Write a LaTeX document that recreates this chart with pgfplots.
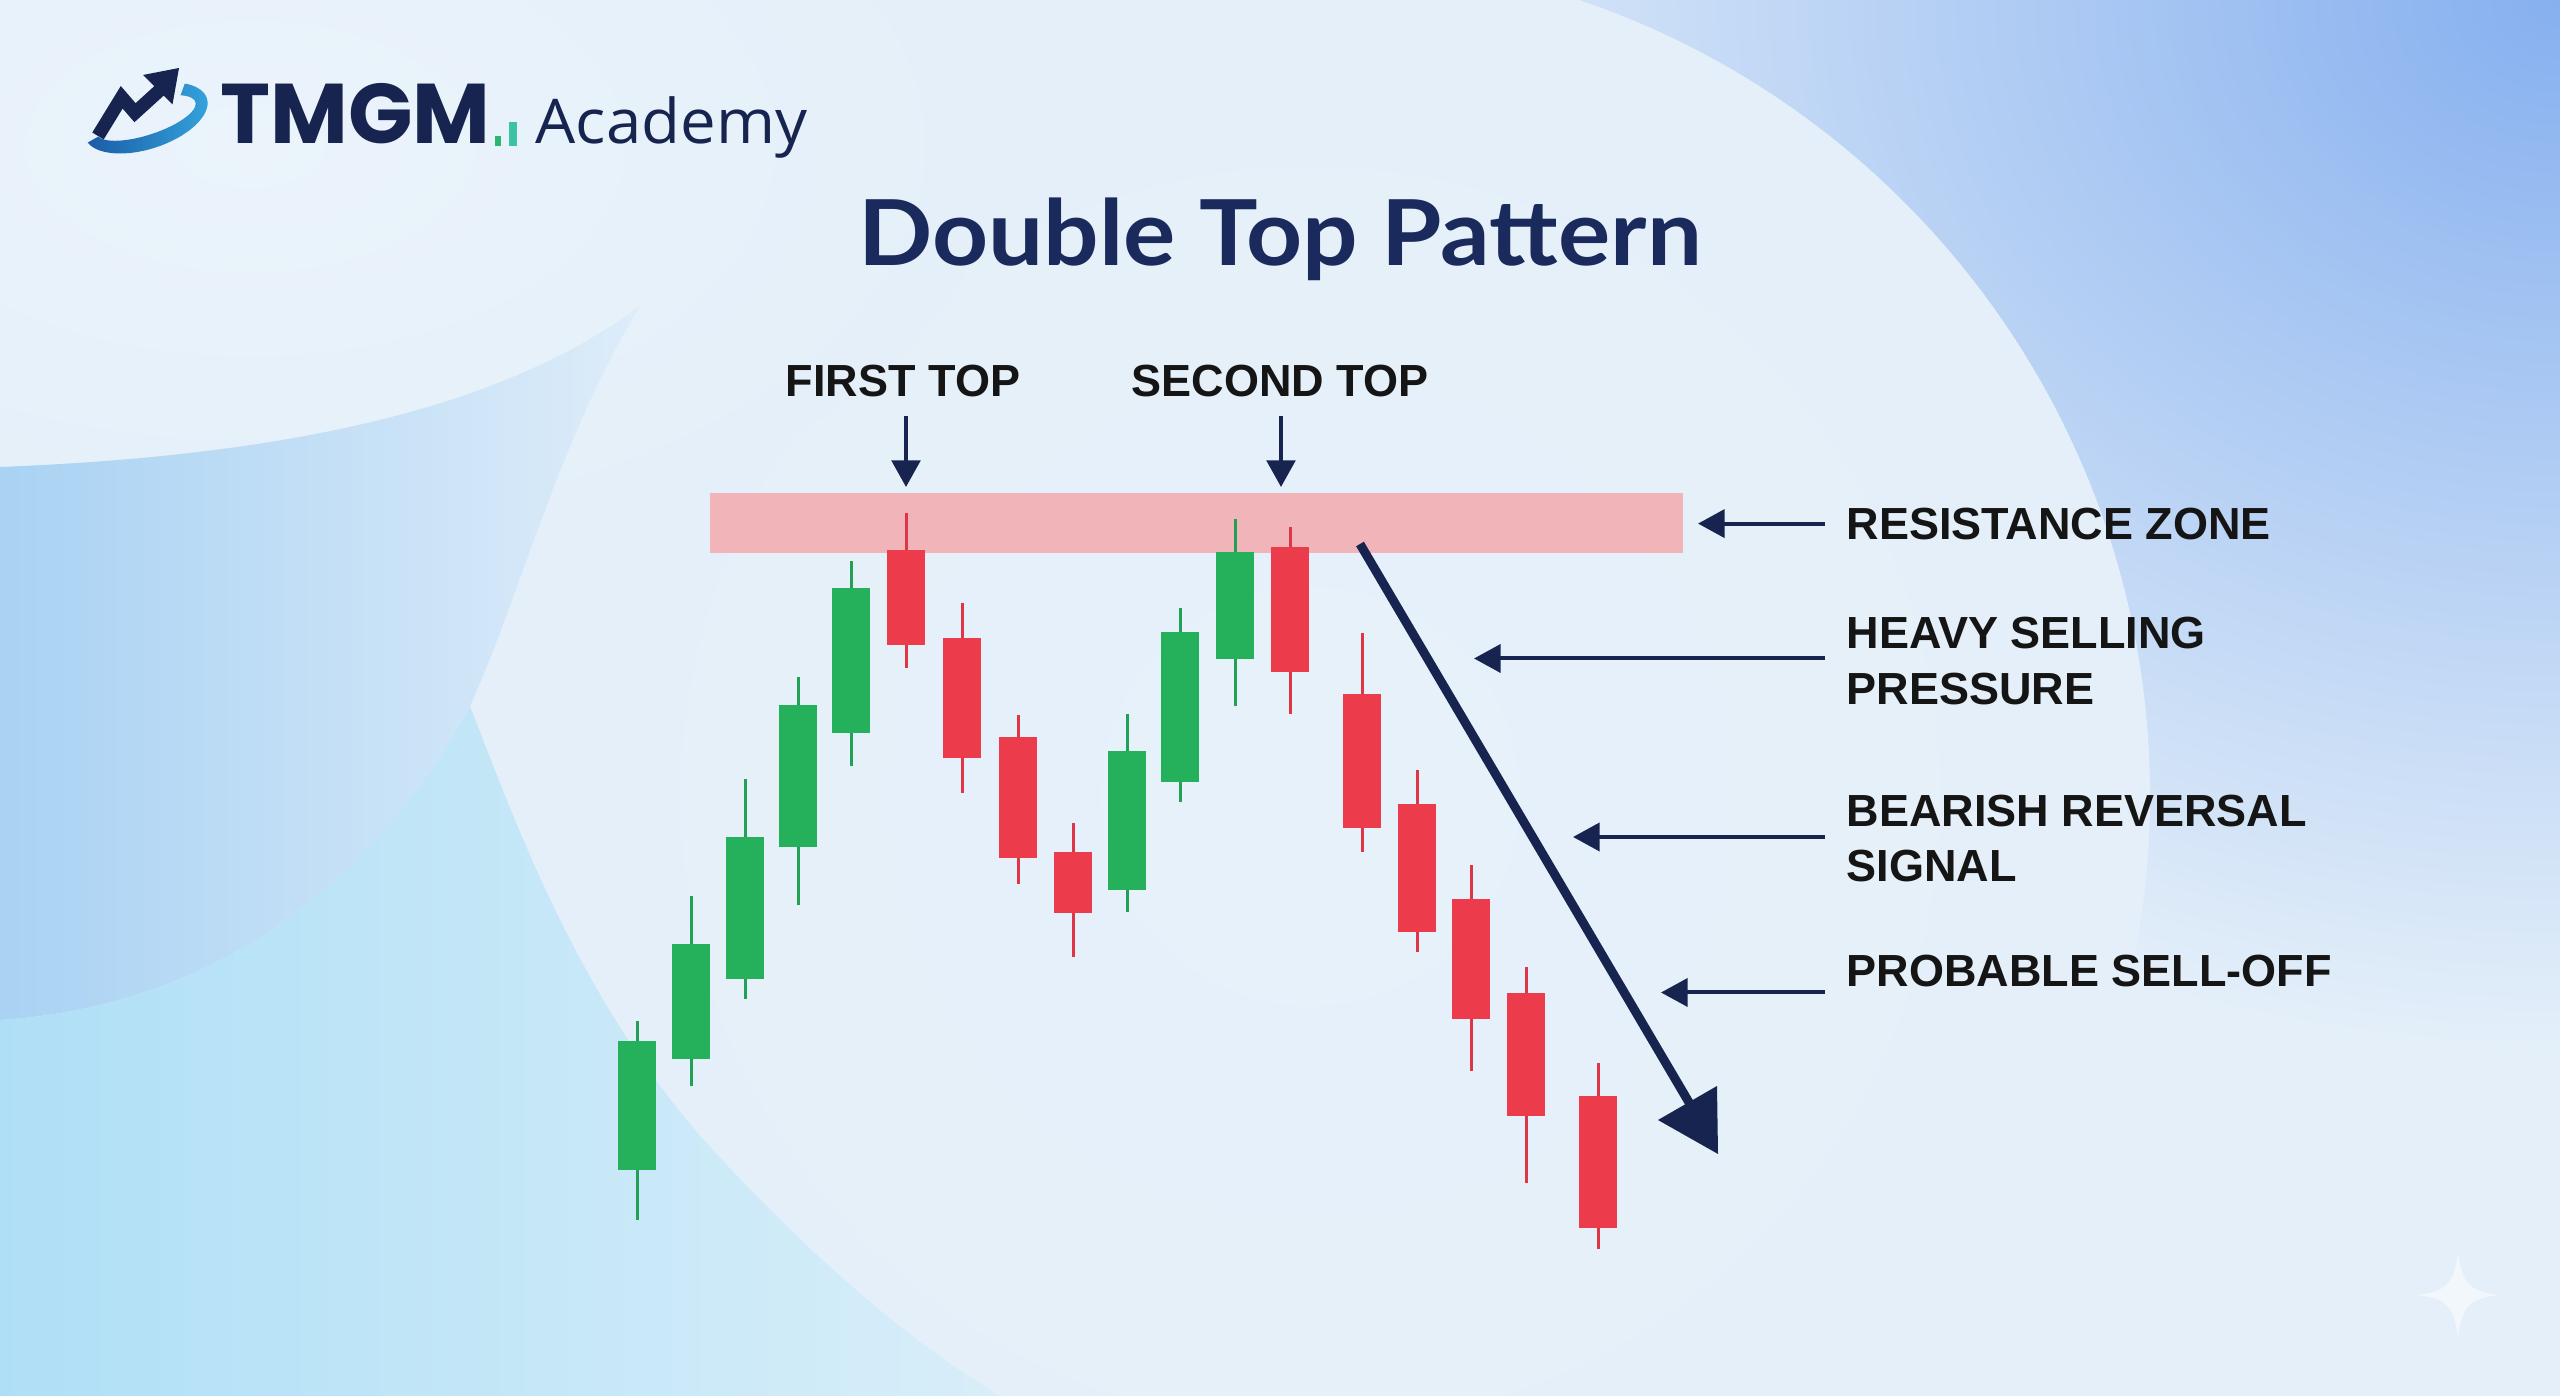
\documentclass[border=0pt]{standalone}
\usepackage{pgfplots}
\pgfplotsset{compat=1.18}
\usepackage{pgfplotstable}
\usepackage{fontspec}
\setmainfont{Liberation Sans}
\newfontfamily\labelfont{Liberation Sans}
\newfontfamily\titlefont{Lato}
\newfontfamily\acadfont{Open Sans}
\newfontfamily\logofont{Poppins}
\usetikzlibrary{arrows.meta}

\definecolor{bgbase}{HTML}{E4EFF9}
\definecolor{bgtl}{HTML}{EBF4FB}
\definecolor{bgtr}{HTML}{86B0EF}
\definecolor{bgcirc1}{HTML}{E7F1FA}
\definecolor{band1}{HTML}{A9D2F3}
\definecolor{band2}{HTML}{DDECF9}
\definecolor{bl1}{HTML}{AFDFF6}
\definecolor{bl2}{HTML}{D8EEF9}
\definecolor{navy}{HTML}{17244F}
\definecolor{titlenavy}{HTML}{1B2A5C}
\definecolor{cgreen}{HTML}{25B15C}
\definecolor{gwick}{HTML}{22A055}
\definecolor{cred}{HTML}{EC3B4A}
\definecolor{rwick}{HTML}{DE3645}
\definecolor{zonepink}{HTML}{F1B5B9}
\definecolor{labelblack}{HTML}{151515}
\definecolor{swooshA}{HTML}{1A5CA6}
\definecolor{swooshB}{HTML}{36A6DE}
\definecolor{bar1}{HTML}{2BB673}
\definecolor{bar2}{HTML}{3CC3A6}

\pgfplotstableread{
x    bot  top  low  high
637  226  355  176  375
691  337  452  310  500
745  417  559  397  617
798  549  691  491  719
851  663  808  630  835
1127 506  645  484  682
1180 614  764  594  788
1235 737  844  690  877
}\greencandles

\pgfplotstableread{
x    bot  top  low  high
906  751  846  728  883
962  638  758  603  793
1018 538  659  512  681
1073 483  544  439  573
1290 724  849  682  869
1362 568  702  544  763
1417 464  592  444  626
1471 377  497  325  531
1526 280  403  213  429
1598 168  300  147  333
}\redcandles

\begin{document}
\begin{tikzpicture}[x=0.3pt,y=0.3pt]
% ---------- background ----------
\fill[bgbase] (0,0) rectangle (2560,1396);
\begin{scope}
\clip (0,0) rectangle (2560,1396);
\shade[inner color=bgtr, outer color=bgbase] (2560,1396) ellipse (1250 and 1050);
\shade[inner color=bgcirc1, outer color=bgbase] (1310,600) circle (840);
\shade[inner color=bgtl, outer color=bgbase] (250,1250) ellipse (750 and 420);
\shade[left color=band1, right color=band2]
  (0,929) .. controls (280,940) and (500,985) .. (640,1090)
  .. controls (560,960) and (520,800) .. (470,690)
  .. controls (380,520) and (220,390) .. (0,376) -- cycle;
\shade[left color=bl1, right color=bl2]
  (0,376) .. controls (220,390) and (380,520) .. (470,690)
  .. controls (520,560) and (580,400) .. (700,260)
  .. controls (800,150) and (900,60) .. (1000,0) -- (0,0) -- cycle;
% sparkle watermark
\fill[white, opacity=0.55] (2458,143) .. controls (2462,112) and (2470,104) .. (2500,101)
  .. controls (2470,98) and (2462,90) .. (2458,59)
  .. controls (2454,90) and (2446,98) .. (2416,101)
  .. controls (2446,104) and (2454,112) .. (2458,143) -- cycle;
\end{scope}

% ---------- chart ----------
\begin{axis}[at={(0,0)}, anchor=origin, x=0.3pt, y=0.3pt,
  xmin=0, xmax=2560, ymin=0, ymax=1396, hide axis, clip=false]
% resistance zone
\addplot[fill=zonepink, draw=none, forget plot] coordinates {(710,843) (1683,843) (1683,903) (710,903)} -- cycle;
% wicks
\addplot[draw=none, mark=none, forget plot,
  error bars/.cd, y dir=plus, y explicit, error mark=none,
  error bar style={line width=0.9pt, draw=gwick}]
  table[x=x, y=low, y error expr=\thisrow{high}-\thisrow{low}] {\greencandles};
\addplot[draw=none, mark=none, forget plot,
  error bars/.cd, y dir=plus, y explicit, error mark=none,
  error bar style={line width=0.9pt, draw=rwick}]
  table[x=x, y=low, y error expr=\thisrow{high}-\thisrow{low}] {\redcandles};
% bodies
\addplot[draw=none, mark=none, forget plot,
  error bars/.cd, y dir=plus, y explicit, error mark=none,
  error bar style={line width=11.4pt, draw=cgreen}]
  table[x=x, y=bot, y error expr=\thisrow{top}-\thisrow{bot}] {\greencandles};
\addplot[draw=none, mark=none, forget plot,
  error bars/.cd, y dir=plus, y explicit, error mark=none,
  error bar style={line width=11.4pt, draw=cred}]
  table[x=x, y=bot, y error expr=\thisrow{top}-\thisrow{bot}] {\redcandles};
\end{axis}

% ---------- annotations ----------
% trend arrow
\draw[navy, line width=2.7pt] (1360,852) -- (1697,280);
\fill[navy] (1658,276) -- (1717,310) -- (1718,242) -- cycle;
% top arrows
\draw[navy, line width=1.1pt, -{Triangle[length=8pt,width=8.6pt]}] (906,980) -- (906,909);
\draw[navy, line width=1.1pt, -{Triangle[length=8pt,width=8.6pt]}] (1281,980) -- (1281,909);
% side arrows
\draw[navy, line width=1.2pt, -{Triangle[length=8pt,width=8.4pt]}] (1825,872.4) -- (1698,872.4);
\draw[navy, line width=1.2pt, -{Triangle[length=8pt,width=8.4pt]}] (1825,737.5) -- (1474,737.5);
\draw[navy, line width=1.2pt, -{Triangle[length=8pt,width=8.4pt]}] (1825,559) -- (1573,559);
\draw[navy, line width=1.2pt, -{Triangle[length=8pt,width=8.4pt]}] (1825,403.5) -- (1661,403.5);

% labels
\begin{scope}[every node/.style={inner sep=0pt, text=labelblack, font=\labelfont\bfseries\fontsize{13.5}{15}\selectfont}]
\node[anchor=base] at (903,999) {FIRST TOP};
\node[anchor=base] at (1280,999) {SECOND TOP};
\node[anchor=base west] at (1846,856) {RESISTANCE ZONE};
\node[anchor=base west] at (1846,747.4) {HEAVY SELLING};
\node[anchor=base west] at (1846,691.7) {PRESSURE};
\node[anchor=base west] at (1846,569) {BEARISH REVERSAL};
\node[anchor=base west] at (1846,514.2) {SIGNAL};
\node[anchor=base west] at (1846,409) {PROBABLE SELL-OFF};
\end{scope}

% title
\node[anchor=base, inner sep=0pt, xscale=1.075, text=titlenavy, font=\titlefont\bfseries\fontsize{27.3}{30}\selectfont] at (1280,1130) {Double Top Pattern};

% logo
\begin{scope}[shift={(146,1278)}, rotate=18]
\shade[left color=swooshA, right color=swooshB]
  (190:64 and 31) arc[start angle=190, end angle=402, x radius=64, y radius=31]
  -- (40:52 and 17) arc[start angle=40, end angle=-170, x radius=52, y radius=17] -- cycle;
\end{scope}
\draw[navy, line width=4pt, line join=miter] (98,1260) -- (121.7,1298.7) -- (135,1283.3) -- (160,1306);
\fill[navy] (143,1321) -- (179,1328) -- (172.5,1291.5) -- cycle;
\node[anchor=base west, inner sep=0pt, text=navy, font=\logofont\bfseries\fontsize{25.4}{28}\selectfont] at (220,1252) {TMGM};
\fill[bar1] (494.7,1250) rectangle (501.3,1260);
\fill[bar2] (509,1250) rectangle (516.6,1274.3);
\node[anchor=base west, inner sep=0pt, xscale=1.03, text=navy, font=\acadfont\fontsize{18.5}{20}\selectfont] at (535,1252) {Academy};
\end{tikzpicture}
\end{document}
